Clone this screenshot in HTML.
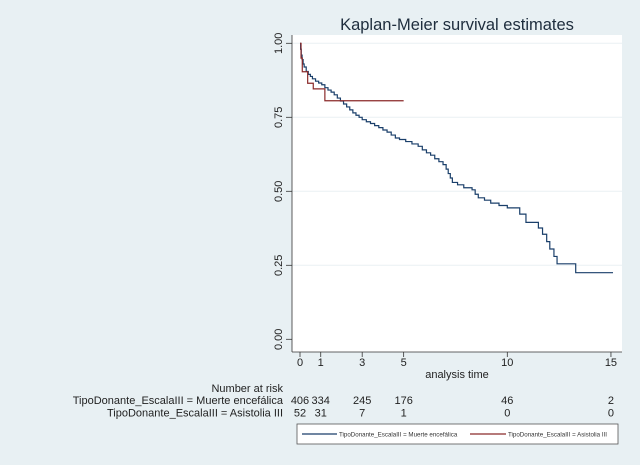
<!DOCTYPE html>
<html><head><meta charset="utf-8"><style>
html,body{margin:0;padding:0;background:#e8f0f3;}
svg{display:block;font-family:"Liberation Sans",Arial,sans-serif;}
</style></head><body>
<svg width="640" height="465" viewBox="0 0 640 465">
<rect x="0" y="0" width="640" height="465" fill="#e8f0f3"/>
<text x="457" y="30" font-size="16.5" text-anchor="middle" fill="#1e2d3d">Kaplan-Meier survival estimates</text>
<rect x="292" y="35" width="330" height="317" fill="#ffffff"/>
<g id="grid"></g>
<g id="axes"></g>
<g id="series"></g>
<g id="risk"></g>
<g>
<rect x="297" y="424" width="321" height="20" fill="#ffffff" stroke="#555" stroke-width="0.8"/>
<line x1="302" y1="434" x2="337" y2="434" stroke="#1a3f6a" stroke-width="1.2"/>
<text x="339" y="436.5" font-size="6.2" fill="#333">TipoDonante_EscalaIII = Muerte encefálica</text>
<line x1="470" y1="434" x2="506" y2="434" stroke="#8b2a2a" stroke-width="1.2"/>
<text x="508" y="436.5" font-size="6.2" fill="#333">TipoDonante_EscalaIII = Asistolia III</text>
</g>
</svg>
<script>
const xTicks=[0,1,3,5,10,15];
const yTicks=[0,0.25,0.5,0.75,1.0];
const yTickLabels=["0.00","0.25","0.50","0.75","1.00"];
const blueTimes=[0,0.03,0.06,0.1,0.15,0.2,0.3,0.4,0.5,0.6,0.75,0.9,1.05,1.2,1.35,1.5,1.65,1.8,1.95,2.1,2.25,2.4,2.55,2.7,2.85,3.0,3.2,3.4,3.6,3.8,4.0,4.2,4.4,4.6,4.8,5.1,5.4,5.7,5.9,6.1,6.3,6.5,6.7,6.9,7.05,7.15,7.25,7.35,7.6,7.9,8.3,8.45,8.6,8.9,9.2,9.6,10.0,10.6,10.9,11.5,11.7,11.9,12.05,12.25,12.4,13.3];
const blueSurv=[1.0,0.98,0.96,0.945,0.93,0.92,0.905,0.895,0.888,0.88,0.872,0.866,0.86,0.85,0.842,0.835,0.826,0.815,0.805,0.795,0.785,0.775,0.765,0.757,0.75,0.742,0.735,0.729,0.722,0.715,0.707,0.7,0.69,0.68,0.675,0.668,0.66,0.652,0.64,0.63,0.622,0.61,0.6,0.59,0.575,0.56,0.545,0.53,0.522,0.512,0.505,0.49,0.478,0.47,0.46,0.452,0.444,0.423,0.395,0.376,0.355,0.33,0.305,0.28,0.255,0.225];
const blueEnd=15.1;
const redTimes=[0,0.05,0.11,0.37,0.64,1.2];
const redSurv=[1.0,0.95,0.904,0.865,0.846,0.806];
const redEnd=5.0;
const riskTimes=[0,1,3,5,10,15];
const riskMuerte=[406,334,245,176,46,2];
const riskAsistolia=[52,31,7,1,0,0];
const riskLabels=["TipoDonante_EscalaIII = Muerte encefálica","TipoDonante_EscalaIII = Asistolia III"];

const NS="http://www.w3.org/2000/svg";
const X=t=>300+t*20.73;
const Y=v=>339.3-v*296;
function mk(tag,attrs,parent){const e=document.createElementNS(NS,tag);for(const k in attrs)e.setAttribute(k,attrs[k]);parent.appendChild(e);return e;}
const grid=document.getElementById('grid'),axes=document.getElementById('axes'),series=document.getElementById('series'),risk=document.getElementById('risk');
yTicks.forEach((v,i)=>{
  if(v>0){const g=mk('line',{x1:292,x2:622,y1:Y(v),y2:Y(v),stroke:'#eaf0f3','stroke-width':1},grid);
  
  }
  const t=mk('line',{x1:286,x2:292,y1:Y(v),y2:Y(v),stroke:'#333','stroke-width':0.8},axes);
  
  
  const l=mk('text',{x:0,y:0,'font-size':11,'text-anchor':'middle',fill:'#222',transform:`translate(282,${Y(v)}) rotate(-90)`},axes);
  l.textContent=yTickLabels[i];
  
  
});
const ya=mk('line',{x1:292,x2:292,y1:35,y2:352,stroke:'#333','stroke-width':0.8},axes);


const xa=mk('line',{x1:292,x2:622,y1:352,y2:352,stroke:'#333','stroke-width':0.8},axes);


xTicks.forEach(t=>{
  const k=mk('line',{x1:X(t),x2:X(t),y1:352,y2:357,stroke:'#333','stroke-width':0.8},axes);
  
  
  const l=mk('text',{x:X(t),y:366,'font-size':11,'text-anchor':'middle',fill:'#222'},axes);
  l.textContent=t;
  
  
});
const xt=mk('text',{x:457,y:378,'font-size':11,'text-anchor':'middle',fill:'#222'},axes);
xt.textContent='analysis time';


function stepPath(ts,ss,end){let d=`M${X(ts[0])},${Y(ss[0])}`;for(let i=1;i<ts.length;i++){d+=` H${X(ts[i])} V${Y(ss[i])}`;}d+=` H${X(end)}`;return d;}
const b=mk('path',{d:stepPath(blueTimes,blueSurv,blueEnd),fill:'none',stroke:'#1a3f6a','stroke-width':1.2},series);


const r=mk('path',{d:stepPath(redTimes,redSurv,redEnd),fill:'none',stroke:'#8b2a2a','stroke-width':1.2},series);


const nr=mk('text',{x:283,y:392,'font-size':11,'text-anchor':'end',fill:'#222'},risk);
nr.textContent='Number at risk';


[riskMuerte,riskAsistolia].forEach((arr,j)=>{
  const yy=404+j*12.5;
  const lab=mk('text',{x:283,y:yy,'font-size':11,'text-anchor':'end',fill:'#222'},risk);
  lab.textContent=riskLabels[j];
  
  
  arr.forEach((n,i)=>{
    const c=mk('text',{x:X(riskTimes[i]),y:yy,'font-size':11,'text-anchor':'middle',fill:'#222'},risk);
    c.textContent=n;
    
    
  });
});
</script>
</body></html>
